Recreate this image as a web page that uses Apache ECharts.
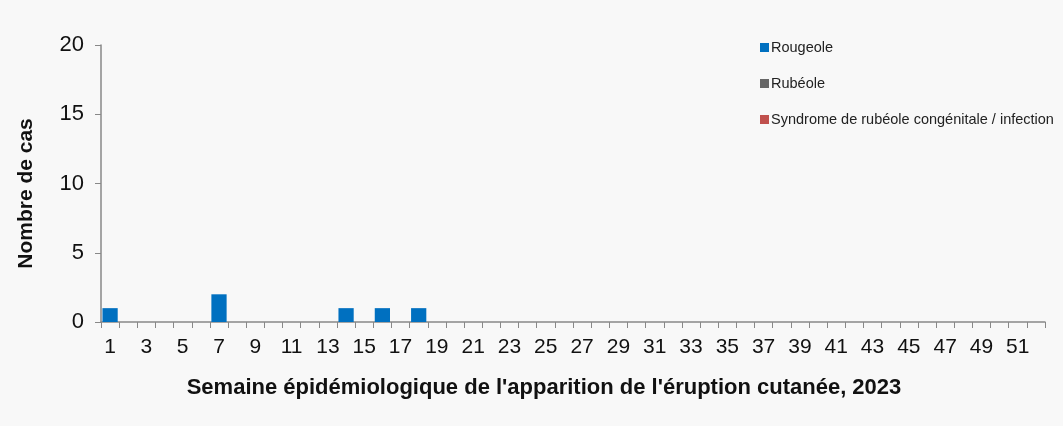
<!DOCTYPE html>
<html>
<head>
<meta charset="utf-8">
<script src="https://cdn.jsdelivr.net/npm/echarts@6/dist/echarts.min.js"></script>
<style>
  html, body { margin: 0; padding: 0; background: #f8f8f8; }
  #chart { width: 1063px; height: 426px; }
</style>
</head>
<body>
<div id="chart"></div>
<script>
// semaines 1..52
var weeks = [];
for (var w = 1; w <= 52; w++) { weeks.push(String(w)); }

// cas par semaine
var rougeole = [1,0,0,0,0,0,2,0,0,0,0,0,0,1,0,1,0,1,0,0,0,0,0,0,0,0,
                0,0,0,0,0,0,0,0,0,0,0,0,0,0,0,0,0,0,0,0,0,0,0,0,0,0];
var rubeole = [0,0,0,0,0,0,0,0,0,0,0,0,0,0,0,0,0,0,0,0,0,0,0,0,0,0,
               0,0,0,0,0,0,0,0,0,0,0,0,0,0,0,0,0,0,0,0,0,0,0,0,0,0];
var src = [0,0,0,0,0,0,0,0,0,0,0,0,0,0,0,0,0,0,0,0,0,0,0,0,0,0,
           0,0,0,0,0,0,0,0,0,0,0,0,0,0,0,0,0,0,0,0,0,0,0,0,0,0];

var myChart = echarts.init(document.getElementById('chart'));

var font = 'Arial, "Liberation Sans", sans-serif';

option = {
    backgroundColor: '#f8f8f8',
    animation: false,
    textStyle: { fontFamily: font },
    grid: {
        left: 101,
        right: 18,
        top: 45,
        bottom: 104
    },
    legend: {
        orient: 'vertical',
        left: 755,
        top: 35,
        itemWidth: 9,
        itemHeight: 9,
        itemGap: 21,
        icon: 'rect',
        textStyle: { fontSize: 14.5, color: '#222', fontFamily: font, padding: [0, 0, 0, -3] },
        data: ['Rougeole', 'Rubéole', 'Syndrome de rubéole congénitale / infection']
    },
    xAxis: {
        type: 'category',
        data: weeks,
        name: "Semaine épidémiologique de l'apparition de l'éruption cutanée, 2023",
        nameLocation: 'middle',
        nameGap: 55,
        // titre un peu décalé vers la gauche comme dans l'original
        nameTextStyle: { fontSize: 22, fontWeight: 'bold', color: '#111', fontFamily: font, padding: [0, 58, 0, 0] },
        axisLine: { lineStyle: { color: '#888', width: 1.5 } },
        axisTick: { show: true, interval: 0, length: 6, lineStyle: { color: '#888' } },
        axisLabel: { interval: 1, fontSize: 21, color: '#111', margin: 15, fontFamily: font }
    },
    yAxis: {
        type: 'value',
        min: 0,
        max: 20,
        interval: 5,
        name: 'Nombre de cas',
        nameLocation: 'middle',
        nameGap: 64,
        nameTextStyle: { fontSize: 21, fontWeight: 'bold', color: '#111', fontFamily: font, padding: [0, 20, 0, 0] },
        axisLine: { show: true, lineStyle: { color: '#888', width: 1.5 } },
        axisTick: { show: true, length: 6, lineStyle: { color: '#888' } },
        splitLine: { show: false },
        axisLabel: { fontSize: 22, color: '#111', margin: 17, fontFamily: font }
    },
    series: [
        {
            name: 'Rougeole',
            type: 'bar',
            stack: 'cas',
            barCategoryGap: '16%',
            itemStyle: { color: '#0070C0' },
            data: rougeole
        },
        {
            name: 'Rubéole',
            type: 'bar',
            stack: 'cas',
            itemStyle: { color: '#666666' },
            data: rubeole
        },
        {
            name: 'Syndrome de rubéole congénitale / infection',
            type: 'bar',
            stack: 'cas',
            itemStyle: { color: '#C0504D' },
            data: src
        }
    ]
};

myChart.setOption(option);
</script>
</body>
</html>
